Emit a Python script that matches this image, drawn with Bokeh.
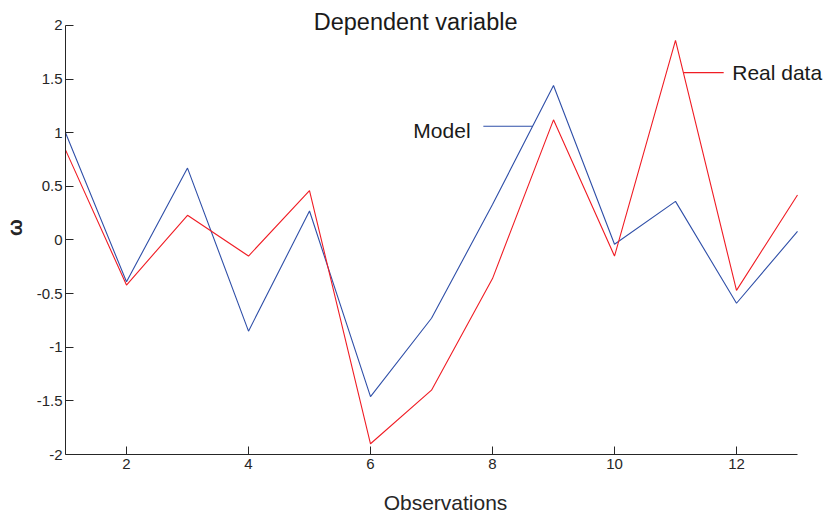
from bokeh.plotting import figure
from bokeh.embed import file_html
from bokeh.resources import INLINE
from bokeh.models import FixedTicker, Range1d, Label, Segment, ColumnDataSource

observations = [1, 2, 3, 4, 5, 6, 7, 8, 9, 10, 11, 12, 13]
model = [1.0, -0.39, 0.67, -0.85, 0.27, -1.46, -0.73, 0.33, 1.44, -0.04, 0.36, -0.59, 0.08]
real_data = [0.84, -0.42, 0.23, -0.15, 0.46, -1.90, -1.40, -0.36, 1.12, -0.15, 1.86, -0.47, 0.42]

x_ticks = [2, 4, 6, 8, 10, 12]
y_ticks = [-2, -1.5, -1, -0.5, 0, 0.5, 1, 1.5, 2]
y_tick_labels = ["-2", "-1.5", "-1", "-0.5", "0", "0.5", "1", "1.5", "2"]

FONT = "Liberation Sans"
BLUE = "#2f4fa8"
RED = "#f01c24"
INK = "#262626"

# the axes stop at 13 / 2 (bounds); the frame runs a little further so the
# title and the "Real data" label are not clipped
p = figure(width=825, height=516, output_backend="svg", toolbar_location=None,
           x_range=Range1d(1, 13.459), y_range=Range1d(-2, 2.2326),
           min_border_left=65, min_border_right=0, min_border_top=0, min_border_bottom=61)
p.outline_line_color = None
p.grid.visible = False

p.line(observations, model, line_color=BLUE, line_width=1.1)
p.line(observations, real_data, line_color=RED, line_width=1.1)

for ax in (p.xaxis[0], p.yaxis[0]):
    ax.major_tick_in = 8
    ax.major_tick_out = 0
    ax.minor_tick_line_color = None
    ax.axis_line_color = INK
    ax.major_tick_line_color = INK
    ax.major_label_text_color = INK
    ax.major_label_text_font = FONT
    ax.major_label_text_font_size = "15px"
    ax.axis_label_text_font = FONT
    ax.axis_label_text_color = INK
    ax.axis_label_text_font_style = "normal"

p.xaxis.bounds = (1, 13)
p.xaxis.ticker = FixedTicker(ticks=x_ticks)
p.xaxis.major_label_standoff = 4
p.xaxis.axis_label = "Observations"
p.xaxis.axis_label_text_font_size = "21px"
p.xaxis.axis_label_text_line_height = 0.7
p.xaxis.axis_label_standoff = 19

p.yaxis.bounds = (-2, 2)
p.yaxis.ticker = FixedTicker(ticks=y_ticks)
p.yaxis.major_label_overrides = {float(t): s for t, s in zip(y_ticks, y_tick_labels)}
p.yaxis.major_label_standoff = 3
p.yaxis.axis_label = "ω"
p.yaxis.axis_label_text_font_size = "20px"
p.yaxis.axis_label_text_font_style = "bold"
p.yaxis.axis_label_standoff = 8

# title and in-plot labels, anchored in data units
p.add_layout(Label(x=6.74, y=2.03, text="Dependent variable", text_align="center",
                   text_baseline="middle", text_font=FONT, text_font_size="23.5px",
                   text_color="#1a1a1a"))

conn = ColumnDataSource(dict(x0=[7.85, 11.13], x1=[8.66, 11.79], y0=[1.06, 1.56],
                             y1=[1.06, 1.56], c=[BLUE, RED]))
p.add_glyph(conn, Segment(x0="x0", y0="y0", x1="x1", y1="y1", line_color="c", line_width=1.1))

p.add_layout(Label(x=7.64, y=1.02, text="Model", text_align="right", text_baseline="middle",
                   text_font=FONT, text_font_size="21px", text_color="#1a1a1a"))
p.add_layout(Label(x=11.93, y=1.56, text="Real data", text_align="left", text_baseline="middle",
                   text_font=FONT, text_font_size="21px", text_color="#1a1a1a"))

open("out.html", "w").write(file_html(p, INLINE))
